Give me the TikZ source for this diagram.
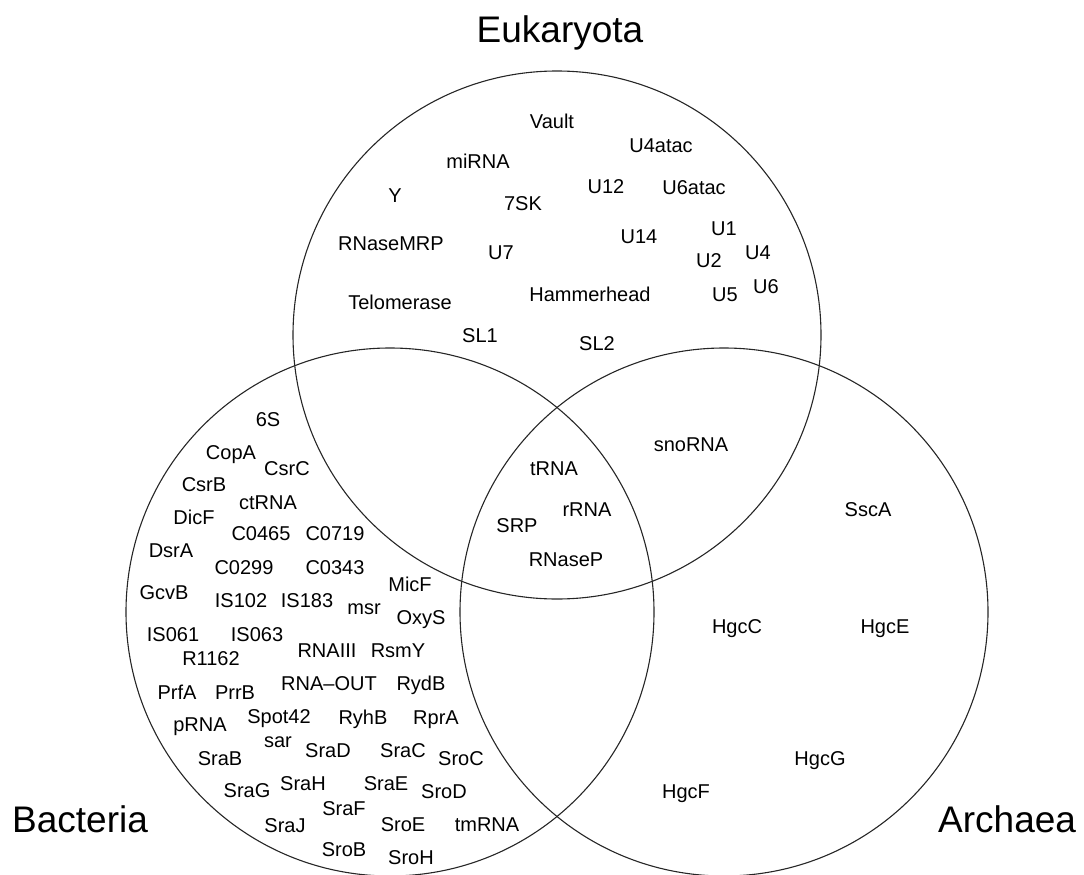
\documentclass[tikz,border=0pt]{standalone}
\usepackage{fontspec}
\setmainfont{Liberation Sans}
\begin{document}
\begin{tikzpicture}[x=1pt,y=-1pt,
  setcircle/.style={circle,draw=black!85,line width=1.1pt,minimum size=528pt,inner sep=0pt},
  lab/.style={font=\fontsize{20}{24}\selectfont,anchor=base,inner sep=0pt},
  big/.style={font=\fontsize{37}{44}\selectfont,anchor=base,inner sep=0pt}]
\useasboundingbox (0,0) rectangle (1084,875);
\clip (0,0) rectangle (1084,875);
% sets
\node[setcircle] (euk) at (557,335) {};
\node[setcircle] (bac) at (390,612) {};
\node[setcircle] (arc) at (724,612) {};
% set titles
\node[big] (teuk) at (560,43) {Eukaryota};
\node[big,anchor=base west] (tbac) at (12,832) {Bacteria};
\node[big,anchor=base west] (tarc) at (938,832) {Archaea};
% Eukaryota only
\node[lab] (vault) at (552,128) {Vault};
\node[lab] (u4atac) at (661,152) {U4atac};
\node[lab] (mirna) at (478,168) {miRNA};
\node[lab] (y) at (395,202) {Y};
\node[lab] (sevensk) at (523,210) {7SK};
\node[lab] (u12) at (606,193) {U12};
\node[lab] (u6atac) at (694,194) {U6atac};
\node[lab] (u1) at (724,235) {U1};
\node[lab] (u14) at (639,243) {U14};
\node[lab] (rnasemrp) at (391,250) {RNaseMRP};
\node[lab] (u7) at (501,259) {U7};
\node[lab] (u2) at (709,267) {U2};
\node[lab] (u4) at (758,259) {U4};
\node[lab] (telomerase) at (400,309) {Telomerase};
\node[lab] (hammerhead) at (590,301) {Hammerhead};
\node[lab] (u5) at (725,301) {U5};
\node[lab] (u6) at (766,293) {U6};
\node[lab] (sl1) at (480,342) {SL1};
\node[lab] (sl2) at (597,350) {SL2};
% Eukaryota + Archaea
\node[lab] (snorna) at (691,451) {snoRNA};
% all three
\node[lab] (trna) at (554,475) {tRNA};
\node[lab] (rrna) at (587,516) {rRNA};
\node[lab] (srp) at (517,532) {SRP};
\node[lab] (rnasep) at (566,566) {RNaseP};
% Archaea only
\node[lab] (ssca) at (868,516) {SscA};
\node[lab] (hgcc) at (737,633) {HgcC};
\node[lab] (hgce) at (885,633) {HgcE};
\node[lab] (hgcg) at (820,765) {HgcG};
\node[lab] (hgcf) at (686,798) {HgcF};
% Bacteria only
\node[lab] (sixs) at (268,426) {6S};
\node[lab] (copa) at (231,459) {CopA};
\node[lab] (csrc) at (287,475) {CsrC};
\node[lab] (csrb) at (204,491) {CsrB};
\node[lab] (ctrna) at (268,509) {ctRNA};
\node[lab] (dicf) at (194,524) {DicF};
\node[lab] (c0465) at (261,540) {C0465};
\node[lab] (c0719) at (335,540) {C0719};
\node[lab] (dsra) at (171,557) {DsrA};
\node[lab] (c0299) at (244,574) {C0299};
\node[lab] (c0343) at (335,574) {C0343};
\node[lab] (micf) at (410,591) {MicF};
\node[lab] (gcvb) at (164,599) {GcvB};
\node[lab] (is102) at (241,607) {IS102};
\node[lab] (is183) at (307,607) {IS183};
\node[lab] (msr) at (364,614) {msr};
\node[lab] (oxys) at (421,624) {OxyS};
\node[lab] (is061) at (173,641) {IS061};
\node[lab] (is063) at (257,641) {IS063};
\node[lab] (r1162) at (211,665) {R1162};
\node[lab] (rnaiii) at (327,657) {RNAIII};
\node[lab] (rsmy) at (398,657) {RsmY};
\node[lab] (prfa) at (177,699) {PrfA};
\node[lab] (prrb) at (235,699) {PrrB};
\node[lab] (rnaout) at (329,690) {RNA–OUT};
\node[lab] (rydb) at (421,690) {RydB};
\node[lab] (prna) at (200,731) {pRNA};
\node[lab] (spot) at (279,723) {Spot42};
\node[lab] (ryhb) at (363,724) {RyhB};
\node[lab] (rpra) at (436,724) {RprA};
\node[lab] (sar) at (278,747) {sar};
\node[lab] (srab) at (220,765) {SraB};
\node[lab] (srad) at (328,757) {SraD};
\node[lab] (srac) at (403,757) {SraC};
\node[lab] (sroc) at (461,765) {SroC};
\node[lab] (srag) at (247,797) {SraG};
\node[lab] (srah) at (303,790) {SraH};
\node[lab] (srae) at (386,790) {SraE};
\node[lab] (srod) at (444,798) {SroD};
\node[lab] (sraf) at (344,815) {SraF};
\node[lab] (sraj) at (285,832) {SraJ};
\node[lab] (sroe) at (403,831) {SroE};
\node[lab] (tmrna) at (487,831) {tmRNA};
\node[lab] (srob) at (344,856) {SroB};
\node[lab] (sroh) at (411,864) {SroH};
\end{tikzpicture}
\end{document}
